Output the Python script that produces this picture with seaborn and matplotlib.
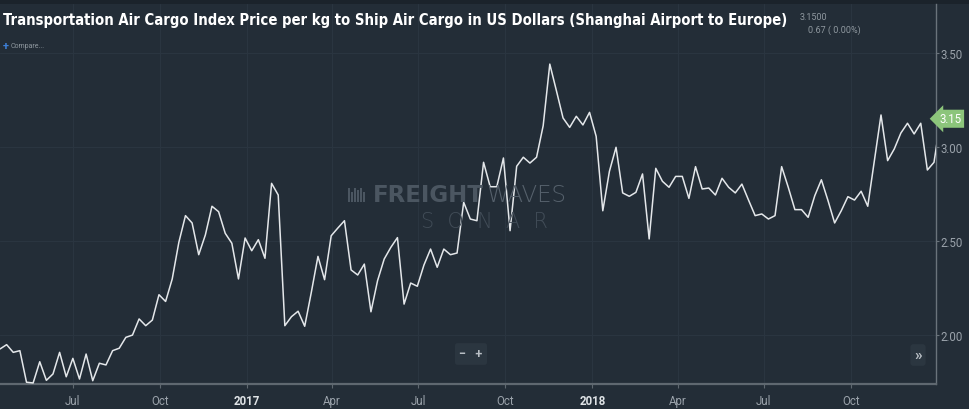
import numpy as np
import pandas as pd
import matplotlib
matplotlib.use("Agg")
import matplotlib.pyplot as plt
import seaborn as sns
from matplotlib.patches import Rectangle

# ---------------- data ----------------
start_date = "2016-04-15"
prices = [
    1.924, 1.947, 1.906, 1.915, 1.747, 1.743, 1.856, 1.757, 1.791, 1.906,
    1.776, 1.874, 1.764, 1.897, 1.755, 1.848, 1.839, 1.915, 1.928, 1.986,
    1.998, 2.084, 2.048, 2.078, 2.213, 2.177, 2.297, 2.492, 2.634, 2.595,
    2.426, 2.531, 2.684, 2.655, 2.540, 2.487, 2.297, 2.515, 2.447, 2.506,
    2.407, 2.806, 2.744, 2.048, 2.096, 2.125, 2.045, 2.226, 2.417, 2.293,
    2.527, 2.568, 2.607, 2.345, 2.318, 2.376, 2.122, 2.288, 2.403, 2.465,
    2.517, 2.163, 2.275, 2.258, 2.371, 2.456, 2.359, 2.456, 2.426, 2.435,
    2.705, 2.616, 2.607, 2.918, 2.788, 2.788, 2.941, 2.554, 2.897, 2.945,
    2.914, 2.945, 3.113, 3.441, 3.299, 3.154, 3.104, 3.163, 3.117, 3.184,
    3.056, 2.660, 2.870, 2.998, 2.755, 2.737, 2.758, 2.856, 2.510, 2.886,
    2.817, 2.785, 2.843, 2.843, 2.726, 2.895, 2.776, 2.781, 2.744, 2.833,
    2.785, 2.755, 2.802, 2.717, 2.634, 2.643, 2.616, 2.634, 2.895, 2.785,
    2.666, 2.666, 2.625, 2.740, 2.825, 2.714, 2.595, 2.660, 2.735, 2.717,
    2.764, 2.684, 2.927, 3.170, 2.927, 2.989, 3.074, 3.126, 3.069, 3.126,
    2.877, 2.918, 3.150,
]
x_tick_dates = ["2016-07-01", "2016-10-01", "2017-01-01", "2017-04-01", "2017-07-01",
                "2017-10-01", "2018-01-01", "2018-04-01", "2018-07-01", "2018-10-01"]
x_tick_labels = ["Jul", "Oct", "2017", "Apr", "Jul", "Oct", "2018", "Apr", "Jul", "Oct"]
year_labels = ["2017", "2018"]
y_ticks = [2.0, 2.5, 3.0, 3.5]
y_tick_labels = ["2.00", "2.50", "3.00", "3.50"]
title = ("Transportation Air Cargo Index Price per kg to Ship Air Cargo in US Dollars "
         "(Shanghai Airport to Europe)")
last_label = "3.15"
last_value = 3.15
header_value = "3.1500"
header_change = "0.67 ( 0.00%)"

df = pd.DataFrame({"date": pd.date_range(start_date, periods=len(prices), freq="7D"),
                   "price": prices})

# ---------------- style ----------------
BG = "#232d37"
TOPBAND = "#1b232b"
GRID = "#2a3540"
AXIS = "#5f6870"
TICKTXT = "#9aa2aa"
LINE = "#e4e7ea"
WM = "#4b5661"

sns.set_theme(style="dark")
plt.rcParams["font.family"] = ["Roboto", "DejaVu Sans"]

W, H = 970, 410
fig = plt.figure(figsize=(W / 100, H / 100), dpi=100, facecolor=BG)
fig.add_artist(Rectangle((0, 1 - 5 / H), 1, 5 / H, transform=fig.transFigure,
                         facecolor=TOPBAND, edgecolor="none", zorder=0))

ax = fig.add_axes([0, 25 / H, 935.7 / W, 380 / H])
ax.set_facecolor(BG)

sns.lineplot(data=df, x="date", y="price", ax=ax, color=LINE, linewidth=1.1, zorder=3)

ax.set_ylim(1.7375, 3.761)
ax.set_xlim(df["date"].iloc[0], df["date"].iloc[0] + pd.Timedelta(days=988.8))

ax.yaxis.tick_right()
ax.set_yticks(y_ticks)
ax.set_yticklabels(y_tick_labels)
ax.set_xticks(pd.to_datetime(x_tick_dates))
ax.set_xticklabels(x_tick_labels)
ax.set_xlabel("")
ax.set_ylabel("")

for s in ["top", "left"]:
    ax.spines[s].set_visible(False)
ax.spines["bottom"].set_color(AXIS)
ax.spines["bottom"].set_linewidth(1.6)
ax.spines["right"].set_color("#6a737b")
ax.spines["right"].set_linewidth(1.0)

ax.grid(True, color=GRID, linewidth=0.8)
ax.tick_params(axis="y", which="both", right=True, left=False, length=2, width=0.8,
               color="#6a737b", pad=1.5, labelsize=8.3, labelcolor=TICKTXT)
ax.tick_params(axis="x", which="both", bottom=True, length=3, width=0.8,
               color=AXIS, pad=4, labelsize=8.3, labelcolor=TICKTXT)
for lbl in ax.get_xticklabels():
    if lbl.get_text() in year_labels:
        lbl.set_color("#dfe3e6")
        lbl.set_fontweight("bold")

# last value badge
ax.text(1.004, last_value, last_label, transform=ax.get_yaxis_transform(),
        ha="left", va="center", fontsize=8.3, color="white", clip_on=False, zorder=6,
        bbox=dict(boxstyle="larrow,pad=0.22", facecolor="#8cc57b", edgecolor="none"))

# title & header
t_title = fig.text(3 / W, 1 - 21 / H, title, ha="left", va="center", fontsize=14,
                   fontweight="bold", color="white", fontstretch="condensed",
                   family=["DejaVu Sans"])
fig.text(800 / W, 1 - 17 / H, header_value, ha="left", va="center", fontsize=6.5, color="#8f989f")
fig.text(808 / W, 1 - 30 / H, header_change, ha="left", va="center", fontsize=6.5, color="#8f989f")
fig.text(3 / W, 1 - 47 / H, "+", ha="left", va="center", fontsize=8, color="#3d7fd6",
         fontweight="bold")
fig.text(11 / W, 1 - 47 / H, "Compare...", ha="left", va="center", fontsize=5, color="#8f989f")

# watermark
for bx, bh in zip([348, 351, 354, 357, 360, 363], [14, 10, 14, 12, 14, 10]):
    fig.add_artist(Rectangle((bx / W, 1 - 203 / H), 1.6 / W, bh / H,
                             transform=fig.transFigure, facecolor=WM, edgecolor="none"))
t_fr = fig.text(373 / W, 1 - 196 / H, "FREIGHT", ha="left", va="center", fontsize=16.5,
                fontweight="bold", color=WM, family=["DejaVu Sans"])
t_wv = fig.text(510 / W, 1 - 196 / H, "WAVES", ha="left", va="center", fontsize=16.5,
                fontweight="light", color="#56616c", family=["DejaVu Sans"])
t_so = fig.text(421 / W, 1 - 222 / H, "S  O  N  A  R", ha="left", va="center", fontsize=15,
                fontweight="light", color="#414c57", family=["DejaVu Sans"])

# fit text widths to the reference layout
fig.canvas.draw()
r = fig.canvas.get_renderer()
def fit(t, target_px):
    w = t.get_window_extent(r).width
    t.set_fontsize(t.get_fontsize() * target_px / w)
fit(t_title, 787)
fit(t_so, 127)
fig.canvas.draw()
t_wv.set_x(t_fr.get_window_extent(r).x1 / W + 3 / W)

# navigator buttons
fig.text(471 / W, 1 - 355 / H, "−   +", ha="center", va="center", fontsize=9,
         fontweight="bold", color="#b8bec4",
         bbox=dict(boxstyle="round,pad=0.35,rounding_size=0.2", facecolor="#2b3640",
                   edgecolor="none"))
fig.text(918 / W, 1 - 356 / H, "»", ha="center", va="center", fontsize=11,
         fontweight="bold", color="#b8bec4",
         bbox=dict(boxstyle="round,pad=0.25,rounding_size=0.2", facecolor="#2b3640",
                   edgecolor="none"))

fig.savefig("out.png", dpi=100, facecolor=BG)
